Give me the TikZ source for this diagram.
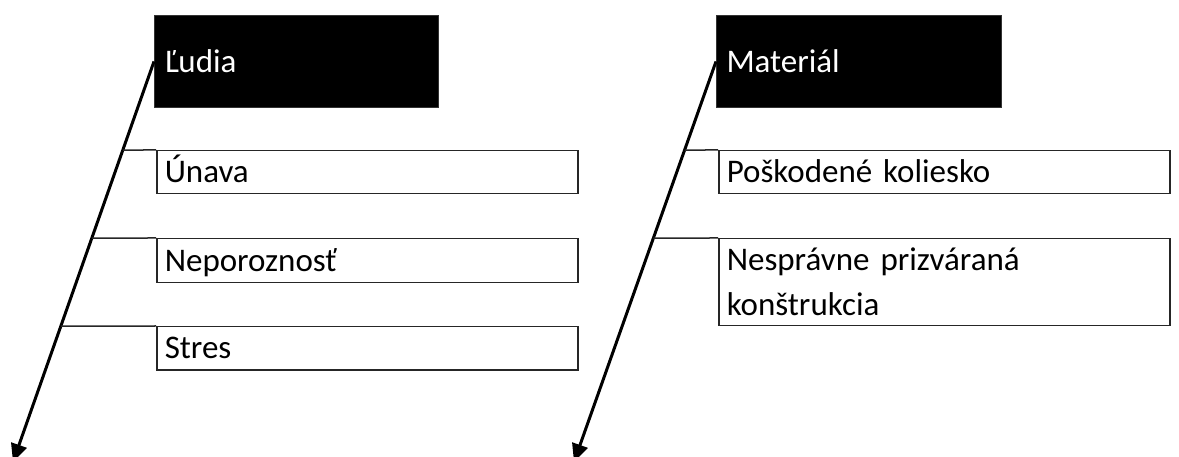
\documentclass[tikz,border=0pt]{standalone}
\usepackage{fontspec}
\setmainfont{Carlito}
\usetikzlibrary{arrows.meta}
\begin{document}
\begin{tikzpicture}[x=1pt,y=-1pt,
  every node/.style={font=\fontsize{33}{45}\selectfont},
  headbox/.style={draw=black!80,fill=black,text=white,line width=1pt,anchor=north west,
    minimum width=#1,inner xsep=9pt,inner ysep=0pt,text width=#1-20pt,align=left,minimum height=92pt},
  causebox/.style={draw=black!85,fill=white,line width=1.5pt,anchor=north west,
    inner xsep=8pt,inner ysep=0pt,text width=#1-18pt,align=left},
  oneline/.style={text height=28pt,text depth=7pt,minimum height=43pt},
  spine/.style={line width=3pt,-{Triangle[length=18pt,width=16pt]}},
  rib/.style={line width=1.5pt,draw=black!85}]
\useasboundingbox (0,0) rectangle (1179,457);
% left group
\node[headbox=284pt] (L) at (154,15) {Ľudia};
\node[causebox=423pt,oneline] (U) at (156,150) {Únava};
\node[causebox=423pt,oneline,minimum height=44pt] (N) at (156,238) {Neporoznosť};
\node[causebox=423pt,oneline] (S) at (156,326) {Stres};
\coordinate (tipL) at (13,462);
\draw[spine] (L.west) -- (tipL);
\draw[rib] (intersection of L.west--tipL and U.north west--U.north east) -- (U.north west);
\draw[rib] (intersection of L.west--tipL and N.north west--N.north east) -- (N.north west);
\draw[rib] (intersection of L.west--tipL and S.north west--S.north east) -- (S.north west);
% right group
\node[headbox=285pt] (M) at (716,15) {Materiál};
\node[causebox=453pt,oneline] (P) at (718,150) {Poškodené koliesko};
\node[causebox=453pt,minimum height=87pt] (K) at (718,238) {Nesprávne prizváraná\\konštrukcia};
\coordinate (tipM) at (574,462);
\draw[spine] (M.west) -- (tipM);
\draw[rib] (intersection of M.west--tipM and P.north west--P.north east) -- (P.north west);
\draw[rib] (intersection of M.west--tipM and K.north west--K.north east) -- (K.north west);
\end{tikzpicture}
\end{document}
